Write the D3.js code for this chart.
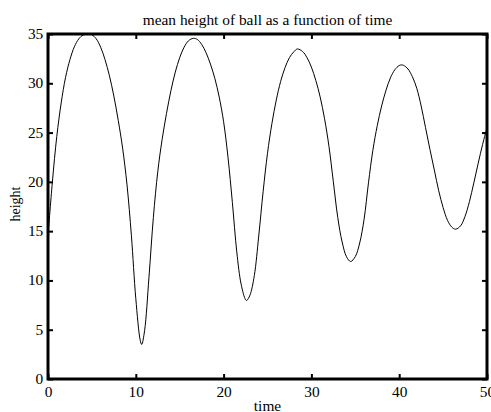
<!DOCTYPE html>
<html>
<head>
<meta charset="utf-8">
<script src="https://cdn.jsdelivr.net/npm/d3@7/dist/d3.min.js"></script>
<style>
  html, body { margin: 0; padding: 0; background: #fff; }
  svg { display: block; }
  text { font-family: "Liberation Serif", "Times New Roman", serif; fill: #000; }
</style>
</head>
<body>
<svg id="chart" width="491" height="412"></svg>
<script>
// Sample times and mean ball height at each time
const time = [
  0, 0.5, 1, 1.5, 2, 2.5, 3, 3.5, 4, 4.5, 4.7,
  5, 5.5, 6, 6.5, 7, 7.5, 8, 8.5, 9, 9.5,
  10, 10.5, 10.67, 11, 11.5, 12, 12.5, 13, 13.5, 14, 14.5,
  15, 15.5, 16, 16.55, 17, 17.5, 18, 18.5, 19, 19.5,
  20, 20.5, 21, 21.5, 22, 22.5, 22.63, 23, 23.5, 24, 24.5,
  25, 25.5, 26, 26.5, 27, 27.5, 28, 28.4, 29, 29.5,
  30, 30.5, 31, 31.5, 32, 32.5, 33, 33.5, 34, 34.47,
  35, 35.5, 36, 36.5, 37, 37.5, 38, 38.5, 39, 39.5,
  40, 40.28, 40.5, 41, 41.5, 42, 42.5, 43, 43.5, 44, 44.5,
  45, 45.5, 46, 46.43, 47, 47.5, 48, 48.5, 49, 49.5,
  50
];
const height = [
  14.5, 20.0, 24.6, 28.0, 30.6, 32.4, 33.7, 34.5, 34.9, 34.99, 35.0,
  34.93, 34.5, 33.65, 32.39, 30.75, 28.7, 26.24, 23.41, 19.69, 14.53,
  8.16, 3.94, 3.5, 4.9, 10.33, 16.39, 21.02, 24.31, 26.95, 29.25, 31.14,
  32.6, 33.66, 34.31, 34.56, 34.45, 33.95, 33.1, 31.95, 30.5, 28.6,
  26.1, 22.5, 17.9, 12.9, 9.6, 8.05, 7.97, 8.5, 10.5, 14.5, 19.0,
  22.9, 25.9, 28.3, 30.2, 31.6, 32.6, 33.2, 33.48, 33.22, 32.6,
  31.64, 30.3, 28.6, 26.4, 23.6, 20.0, 16.4, 13.9, 12.4, 11.92,
  12.42, 13.8, 16.2, 19.9, 23.2, 25.7, 27.7, 29.3, 30.55, 31.37,
  31.8, 31.86, 31.82, 31.45, 30.67, 29.49, 27.7, 25.5, 23.3, 21.2, 19.1,
  17.4, 16.1, 15.4, 15.2, 15.55, 16.5, 18.0, 19.9, 21.9, 23.8,
  25.5
];
const xTicks = [0, 10, 20, 30, 40, 50];
const yTicks = [0, 5, 10, 15, 20, 25, 30, 35];

const svg = d3.select("#chart");
const plotLeft = 48, plotRight = 487, plotTop = 34, plotBottom = 379;
const fontSize = "14px";
const stretch = "scale(1.1,1)";

const x = d3.scaleLinear().domain([0, 50]).range([plotLeft, plotRight]);
const y = d3.scaleLinear().domain([0, 35]).range([plotBottom, plotTop]);

// Curve
const line = d3.line()
  .x((d, i) => x(time[i]))
  .y(d => y(d))
  .curve(d3.curveCatmullRom.alpha(0.5));

svg.append("path")
  .datum(height)
  .attr("d", line)
  .attr("fill", "none")
  .attr("stroke", "#000")
  .attr("stroke-width", 1);

// Axes with inward ticks on all four sides
function styleAxis(g) {
  g.select(".domain").remove();
  g.selectAll(".tick line").attr("stroke", "#000").attr("stroke-width", 2);
  g.selectAll(".tick text")
    .style("font-family", '"Liberation Serif", "Times New Roman", serif')
    .style("font-size", fontSize)
    .attr("transform", stretch)
    .attr("fill", "#000");
}

svg.append("g")
  .attr("transform", `translate(0,${plotBottom})`)
  .call(d3.axisBottom(x).tickValues(xTicks).tickFormat(d3.format("d"))
    .tickSizeInner(-5).tickSizeOuter(0).tickPadding(8.5))
  .call(styleAxis);

svg.append("g")
  .attr("transform", `translate(0,${plotTop})`)
  .call(d3.axisTop(x).tickValues(xTicks).tickFormat("")
    .tickSizeInner(-5).tickSizeOuter(0))
  .call(styleAxis);

svg.append("g")
  .attr("transform", `translate(${plotLeft},0)`)
  .call(d3.axisLeft(y).tickValues(yTicks).tickFormat(d3.format("d"))
    .tickSizeInner(-5).tickSizeOuter(0).tickPadding(4.3))
  .call(styleAxis);

svg.append("g")
  .attr("transform", `translate(${plotRight},0)`)
  .call(d3.axisRight(y).tickValues(yTicks).tickFormat("")
    .tickSizeInner(-5).tickSizeOuter(0))
  .call(styleAxis);

// Box frame
svg.append("rect")
  .attr("x", plotLeft).attr("y", plotTop)
  .attr("width", plotRight - plotLeft).attr("height", plotBottom - plotTop)
  .attr("fill", "none")
  .attr("stroke", "#000")
  .attr("stroke-width", 3);

// Title and axis labels
const midX = (plotLeft + plotRight) / 2;

svg.append("text")
  .attr("transform", `translate(${midX},25) ${stretch}`)
  .attr("text-anchor", "middle")
  .style("font-size", fontSize)
  .text("mean height of ball as a function of time");

svg.append("text")
  .attr("transform", `translate(${midX},411) ${stretch}`)
  .attr("text-anchor", "middle")
  .style("font-size", fontSize)
  .text("time");

svg.append("text")
  .attr("transform", `translate(20,204) ${stretch} rotate(-90)`)
  .attr("text-anchor", "middle")
  .style("font-size", fontSize)
  .text("height");
</script>
</body>
</html>
